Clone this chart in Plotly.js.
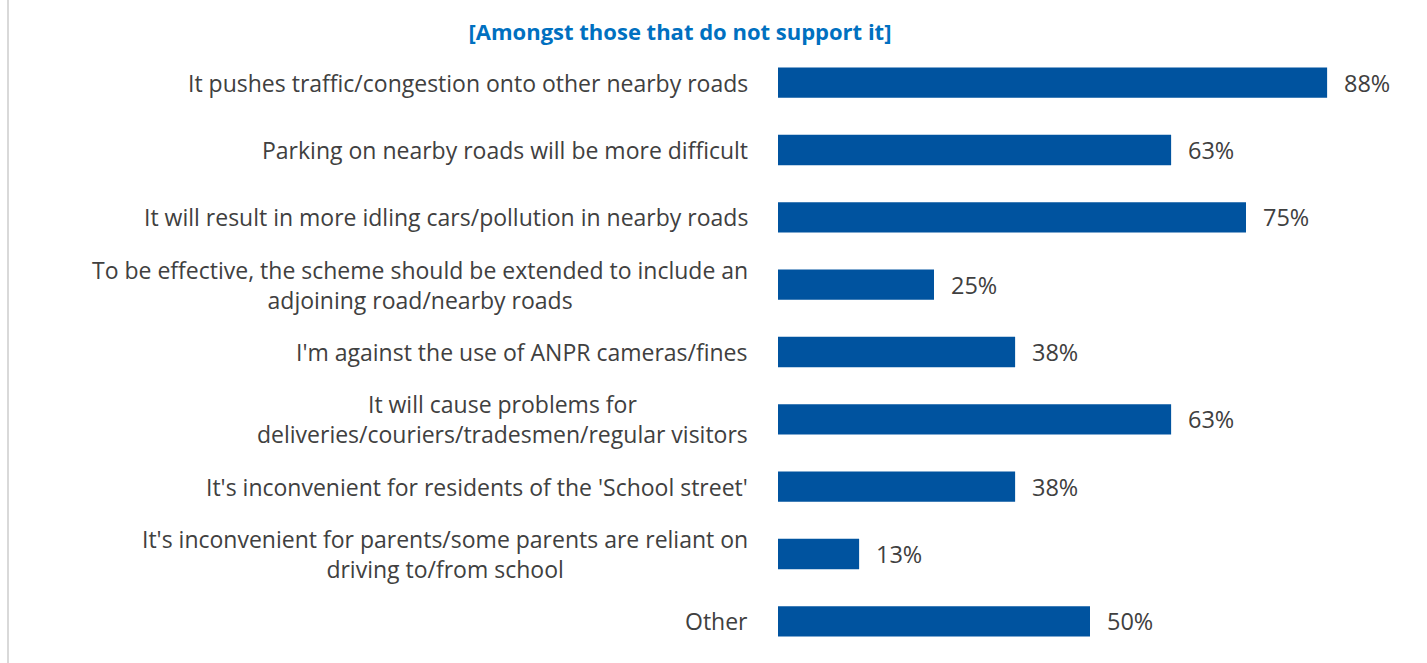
<!DOCTYPE html>
<html><head><meta charset="utf-8">
<script src="https://cdn.plot.ly/plotly-3.0.1.min.js"></script>
<style>html,body{margin:0;padding:0;background:#fff;}#chart{width:1427px;height:663px;}</style>
</head><body><div id="chart"></div>
<script>
const categories = [
  "It pushes traffic/congestion onto other nearby roads",
  "Parking on nearby roads will be more difficult",
  "It will result in more idling cars/pollution in nearby roads",
  "To be effective, the scheme should be extended to include an<br>adjoining road/nearby roads",
  "I'm against the use of ANPR cameras/fines",
  "It will cause problems for<br>deliveries/couriers/tradesmen/regular visitors",
  "It's inconvenient for residents of the 'School street'",
  "It's inconvenient for parents/some parents are reliant on<br>driving to/from school",
  "Other"
];
const values = [88, 63, 75, 25, 38, 63, 38, 13, 50];
const subtitle = "[Amongst those that do not support it]";

const W = 1427, L = 778, R = 25;
const plotW = W - L - R;
const labelFont = {family: "Open Sans, sans-serif", size: 23, color: "#404040"};
const valueFont = {family: "Open Sans, sans-serif", size: 23.5, color: "#404040"};

const annotations = [];
categories.forEach((c, i) => {
  annotations.push({x: 0, xref: "paper", y: c, yref: "y", text: c, showarrow: false,
    xanchor: "right", xshift: -28, align: "center", font: labelFont});
  annotations.push({x: values[i], xref: "x", y: c, yref: "y", text: values[i] + "%", showarrow: false,
    xanchor: "left", xshift: 15, font: valueFont});
});

const trace = {
  type: "bar", orientation: "h", x: values, y: categories,
  marker: {color: "#00539F"}, width: 0.45, hoverinfo: "none"
};

const layout = {
  width: 1427, height: 663,
  margin: {l: L, r: R, t: 49, b: 8},
  paper_bgcolor: "#fff", plot_bgcolor: "#fff",
  title: {text: "<b>" + subtitle + "</b>", xref: "container", yref: "container",
    x: 680/1427, xanchor: "center", y: 1 - 32/663, yanchor: "middle",
    font: {family: "Open Sans, sans-serif", size: 22, color: "#0070C0"}},
  xaxis: {range: [0, 100], visible: false, fixedrange: true},
  yaxis: {autorange: "reversed", showticklabels: false, showgrid: false, zeroline: false,
    showline: false, ticks: ""},
  showlegend: false,
  annotations: annotations,
  shapes: [{type: "line", xref: "paper", yref: "paper",
    x0: (8 - L) / plotW, x1: (8 - L) / plotW, y0: -10/606, y1: 1 + 60/606,
    line: {color: "#d9d9d9", width: 2}}]
};

Plotly.newPlot("chart", [trace], layout, {displayModeBar: false, staticPlot: true});
</script></body></html>
